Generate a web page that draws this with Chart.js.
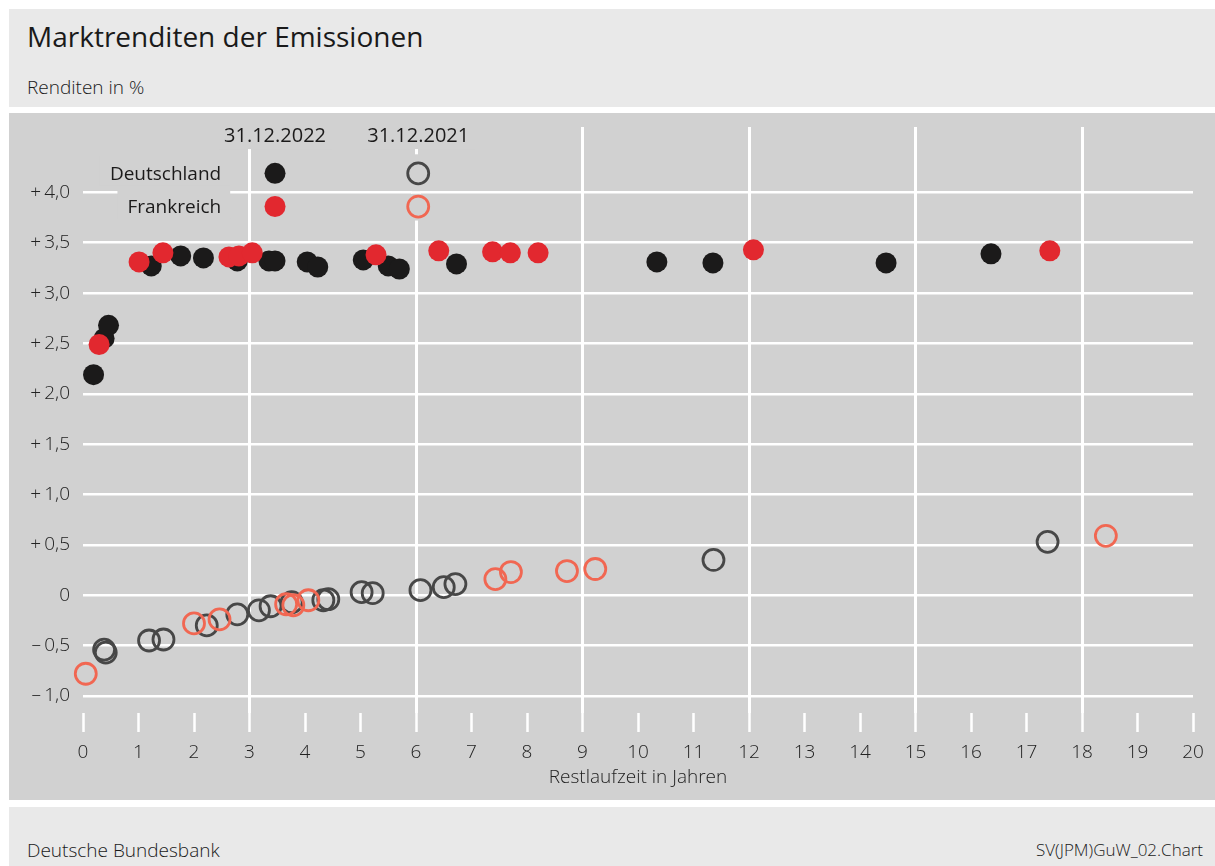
<!DOCTYPE html>
<html lang="de">
<head>
<meta charset="utf-8">
<title>Marktrenditen der Emissionen</title>
<script src="https://cdn.jsdelivr.net/npm/chart.js@4.4.1/dist/chart.umd.min.js"></script>
<style>
  html, body { margin: 0; padding: 0; background: #fff; }
  body { width: 1215px; height: 866px; position: relative; overflow: hidden;
         font-family: 'Open Sans', 'Noto Sans', sans-serif; color: #1a1a1a; }
  .head { position: absolute; left: 9px; top: 9px; width: 1206px; height: 98px; background: #e9e9e9; }
  .head h1 { position: absolute; left: 18px; top: 11px; margin: 0; font-size: 28px; line-height: 32px; font-weight: 400; }
  .head .sub { position: absolute; left: 18px; top: 66px; font-size: 19px; line-height: 24px; font-weight: 300; }
  .plot { position: absolute; left: 9px; top: 113px; width: 1206px; height: 687px; background: #d1d1d1; }
  .foot { position: absolute; left: 9px; top: 807px; width: 1206px; height: 59px; background: #e9e9e9; }
  .foot .src { position: absolute; left: 18px; top: 31px; font-size: 19px; line-height: 24px; font-weight: 300; }
  .foot .id { position: absolute; right: 12px; top: 32px; font-size: 17px; line-height: 22px; font-weight: 300; }
</style>
</head>
<body>
<div class="head">
  <h1>Marktrenditen der Emissionen</h1>
  <div class="sub">Renditen in %</div>
</div>
<div class="plot">
  <canvas id="chart"></canvas>
</div>
<div class="foot">
  <div class="src">Deutsche Bundesbank</div>
  <div class="id">SV(JPM)GuW_02.Chart</div>
</div>
<script>
// Restlaufzeit (Jahre) und Rendite (%) je Emission
const de2022X = [0.19, 0.38, 0.46, 1.23, 1.76, 2.17, 2.78, 3.35, 3.46, 4.04, 4.23, 5.05, 5.50, 5.70, 6.73, 10.34, 11.35, 14.47, 16.36];
const de2022Y = [2.19, 2.55, 2.68, 3.27, 3.37, 3.35, 3.32, 3.32, 3.32, 3.31, 3.26, 3.33, 3.27, 3.24, 3.29, 3.31, 3.30, 3.30, 3.39];

const fr2022X = [0.29, 1.01, 1.44, 2.63, 2.81, 3.05, 5.28, 6.41, 7.38, 7.70, 8.20, 12.08, 17.42];
const fr2022Y = [2.49, 3.31, 3.40, 3.36, 3.37, 3.40, 3.38, 3.42, 3.41, 3.40, 3.40, 3.43, 3.42];

const de2021X = [0.38, 0.41, 1.19, 1.45, 2.23, 2.78, 3.17, 3.38, 3.76, 4.33, 4.42, 5.02, 5.22, 6.08, 6.50, 6.71, 11.36, 17.38];
const de2021Y = [-0.54, -0.57, -0.45, -0.44, -0.30, -0.19, -0.15, -0.11, -0.07, -0.05, -0.04, 0.03, 0.02, 0.05, 0.08, 0.11, 0.35, 0.53];

const fr2021X = [0.05, 2.00, 2.46, 3.66, 3.79, 4.06, 7.43, 7.71, 8.72, 9.23, 18.43];
const fr2021Y = [-0.78, -0.28, -0.24, -0.09, -0.10, -0.05, 0.16, 0.23, 0.24, 0.26, 0.59];

const yTickValues = [-1, -0.5, 0, 0.5, 1, 1.5, 2, 2.5, 3, 3.5, 4];
const yTickLabels = ['\u2013\u20091,0', '\u2013\u20090,5', '0', '+\u20090,5', '+\u20091,0', '+\u20091,5',
                     '+\u20092,0', '+\u20092,5', '+\u20093,0', '+\u20093,5', '+\u20094,0'];

const legendDates = ['31.12.2022', '31.12.2021'];
const legendCountries = ['Deutschland', 'Frankreich'];

// Legendenposition in Achseneinheiten
const legendCols = [3.46, 6.04];
const legendRows = [4.19, 3.86];
const legendHeaderY = 4.56;
const legendLabelX = 2.49;

const BG = '#d1d1d1';
const BLACK = '#1b1a1a';
const RED = '#e2282f';
const GREY_RING = '#474747';
const RED_RING = '#f16752';

const toPoints = (xs, ys) => xs.map((x, i) => ({ x: x, y: ys[i] }));

Chart.defaults.font.family = "'Open Sans', 'Noto Sans', sans-serif";
Chart.defaults.color = '#222';

const filled = (color) => ({ pointRadius: 10.5, pointBorderWidth: 0, pointBackgroundColor: color, pointBorderColor: color });
const ring = (color) => ({ pointRadius: 10.5, pointBorderWidth: 2.8, pointBackgroundColor: 'rgba(0,0,0,0)', pointBorderColor: color });

// Legende als kleine Tabelle oben links
const legendTable = {
  id: 'legendTable',
  beforeDatasetsDraw(chart) {
    const { ctx, chartArea } = chart;
    const x = chart.scales.x, y = chart.scales.y;
    ctx.save();
    ctx.textBaseline = 'middle';

    ctx.font = "500 20px 'Open Sans', 'Noto Sans', sans-serif";
    const hy = y.getPixelForValue(legendHeaderY);
    ctx.textAlign = 'center';
    legendCols.forEach((c, i) => {
      const cx = x.getPixelForValue(c);
      const w = ctx.measureText(legendDates[i]).width;
      ctx.fillStyle = BG;
      ctx.fillRect(cx - w / 2 - 6, chartArea.top - 2, w + 12, hy + 15 - chartArea.top);
      ctx.fillStyle = BLACK;
      ctx.fillText(legendDates[i], cx, hy);
    });

    ctx.font = "500 19px 'Open Sans', 'Noto Sans', sans-serif";
    const lx = x.getPixelForValue(legendLabelX);
    ctx.textAlign = 'right';
    legendCountries.forEach((name, i) => {
      const ry = y.getPixelForValue(legendRows[i]);
      const w = ctx.measureText(name).width;
      ctx.fillStyle = BG;
      ctx.fillRect(lx - w - 10, ry - 17, w + 19, 29);
      ctx.fillStyle = BLACK;
      ctx.fillText(name, lx, ry + 1);
    });

    // Gitterlinie hinter den offenen Kreisen ausblenden
    const gx = x.getPixelForValue(6);
    const top = y.getPixelForValue(legendRows[0]) - 19;
    const bottom = y.getPixelForValue(legendRows[1]) + 14;
    ctx.fillStyle = BG;
    ctx.fillRect(gx - 4, top, 8, bottom - top);
    ctx.strokeStyle = '#fff';
    ctx.lineWidth = 2.6;
    ctx.beginPath();
    ctx.moveTo(gx - 5, y.getPixelForValue(4));
    ctx.lineTo(gx + 5, y.getPixelForValue(4));
    ctx.stroke();

    const markers = [[BLACK, null], [RED, null], [null, GREY_RING], [null, RED_RING]];
    legendRows.forEach((r, ri) => {
      legendCols.forEach((c, ci) => {
        const [fill, stroke] = markers[ci * 2 + ri];
        ctx.beginPath();
        ctx.arc(x.getPixelForValue(c), y.getPixelForValue(r), 10.5, 0, Math.PI * 2);
        if (fill) { ctx.fillStyle = fill; ctx.fill(); }
        if (stroke) { ctx.strokeStyle = stroke; ctx.lineWidth = 2.8; ctx.stroke(); }
      });
    });
    ctx.restore();
  }
};

new Chart(document.getElementById('chart'), {
  type: 'scatter',
  data: {
    datasets: [
      { label: 'Frankreich 31.12.2022', data: toPoints(fr2022X, fr2022Y), clip: false, ...filled(RED) },
      { label: 'Deutschland 31.12.2022', data: toPoints(de2022X, de2022Y), clip: false, ...filled(BLACK) },
      { label: 'Frankreich 31.12.2021', data: toPoints(fr2021X, fr2021Y), clip: false, ...ring(RED_RING) },
      { label: 'Deutschland 31.12.2021', data: toPoints(de2021X, de2021Y), clip: false, ...ring(GREY_RING) }
    ]
  },
  options: {
    responsive: true,
    maintainAspectRatio: false,
    animation: false,
    events: [],
    layout: { padding: { top: 14, right: 22, left: 0, bottom: 0 } },
    plugins: {
      legend: { display: false },
      tooltip: { enabled: false }
    },
    scales: {
      x: {
        type: 'linear',
        min: 0,
        max: 20,
        border: { display: false },
        grid: {
          color: (c) => (c.tick && c.tick.value % 3 === 0 && c.tick.value > 0 && c.tick.value < 20) ? '#fff' : 'rgba(0,0,0,0)',
          lineWidth: 3,
          tickLength: 19,
          tickColor: '#fff',
          tickWidth: 2.5
        },
        ticks: {
          stepSize: 1,
          autoSkip: false,
          maxRotation: 0,
          padding: 9,
          color: '#222',
          font: { size: 19, weight: '300' }
        },
        title: {
          display: true,
          text: 'Restlaufzeit in Jahren',
          color: '#222',
          font: { size: 19, weight: '300' },
          padding: { top: 0, bottom: 11 }
        },
        afterFit: (s) => { s.height = 87; s.paddingLeft = 0; s.paddingRight = 0; }
      },
      y: {
        type: 'linear',
        min: -1.17,
        max: 4.65,
        border: { display: false },
        afterBuildTicks: (s) => { s.ticks = yTickValues.map(v => ({ value: v })); },
        grid: { color: '#fff', lineWidth: 2.6, drawTicks: false },
        ticks: {
          padding: 13,
          color: '#222',
          font: { size: 19, weight: '300' },
          callback: (v) => yTickLabels[yTickValues.indexOf(v)]
        },
        afterFit: (s) => { s.width = 74; s.paddingTop = 0; s.paddingBottom = 0; }
      }
    }
  },
  plugins: [legendTable]
});
</script>
</body>
</html>
